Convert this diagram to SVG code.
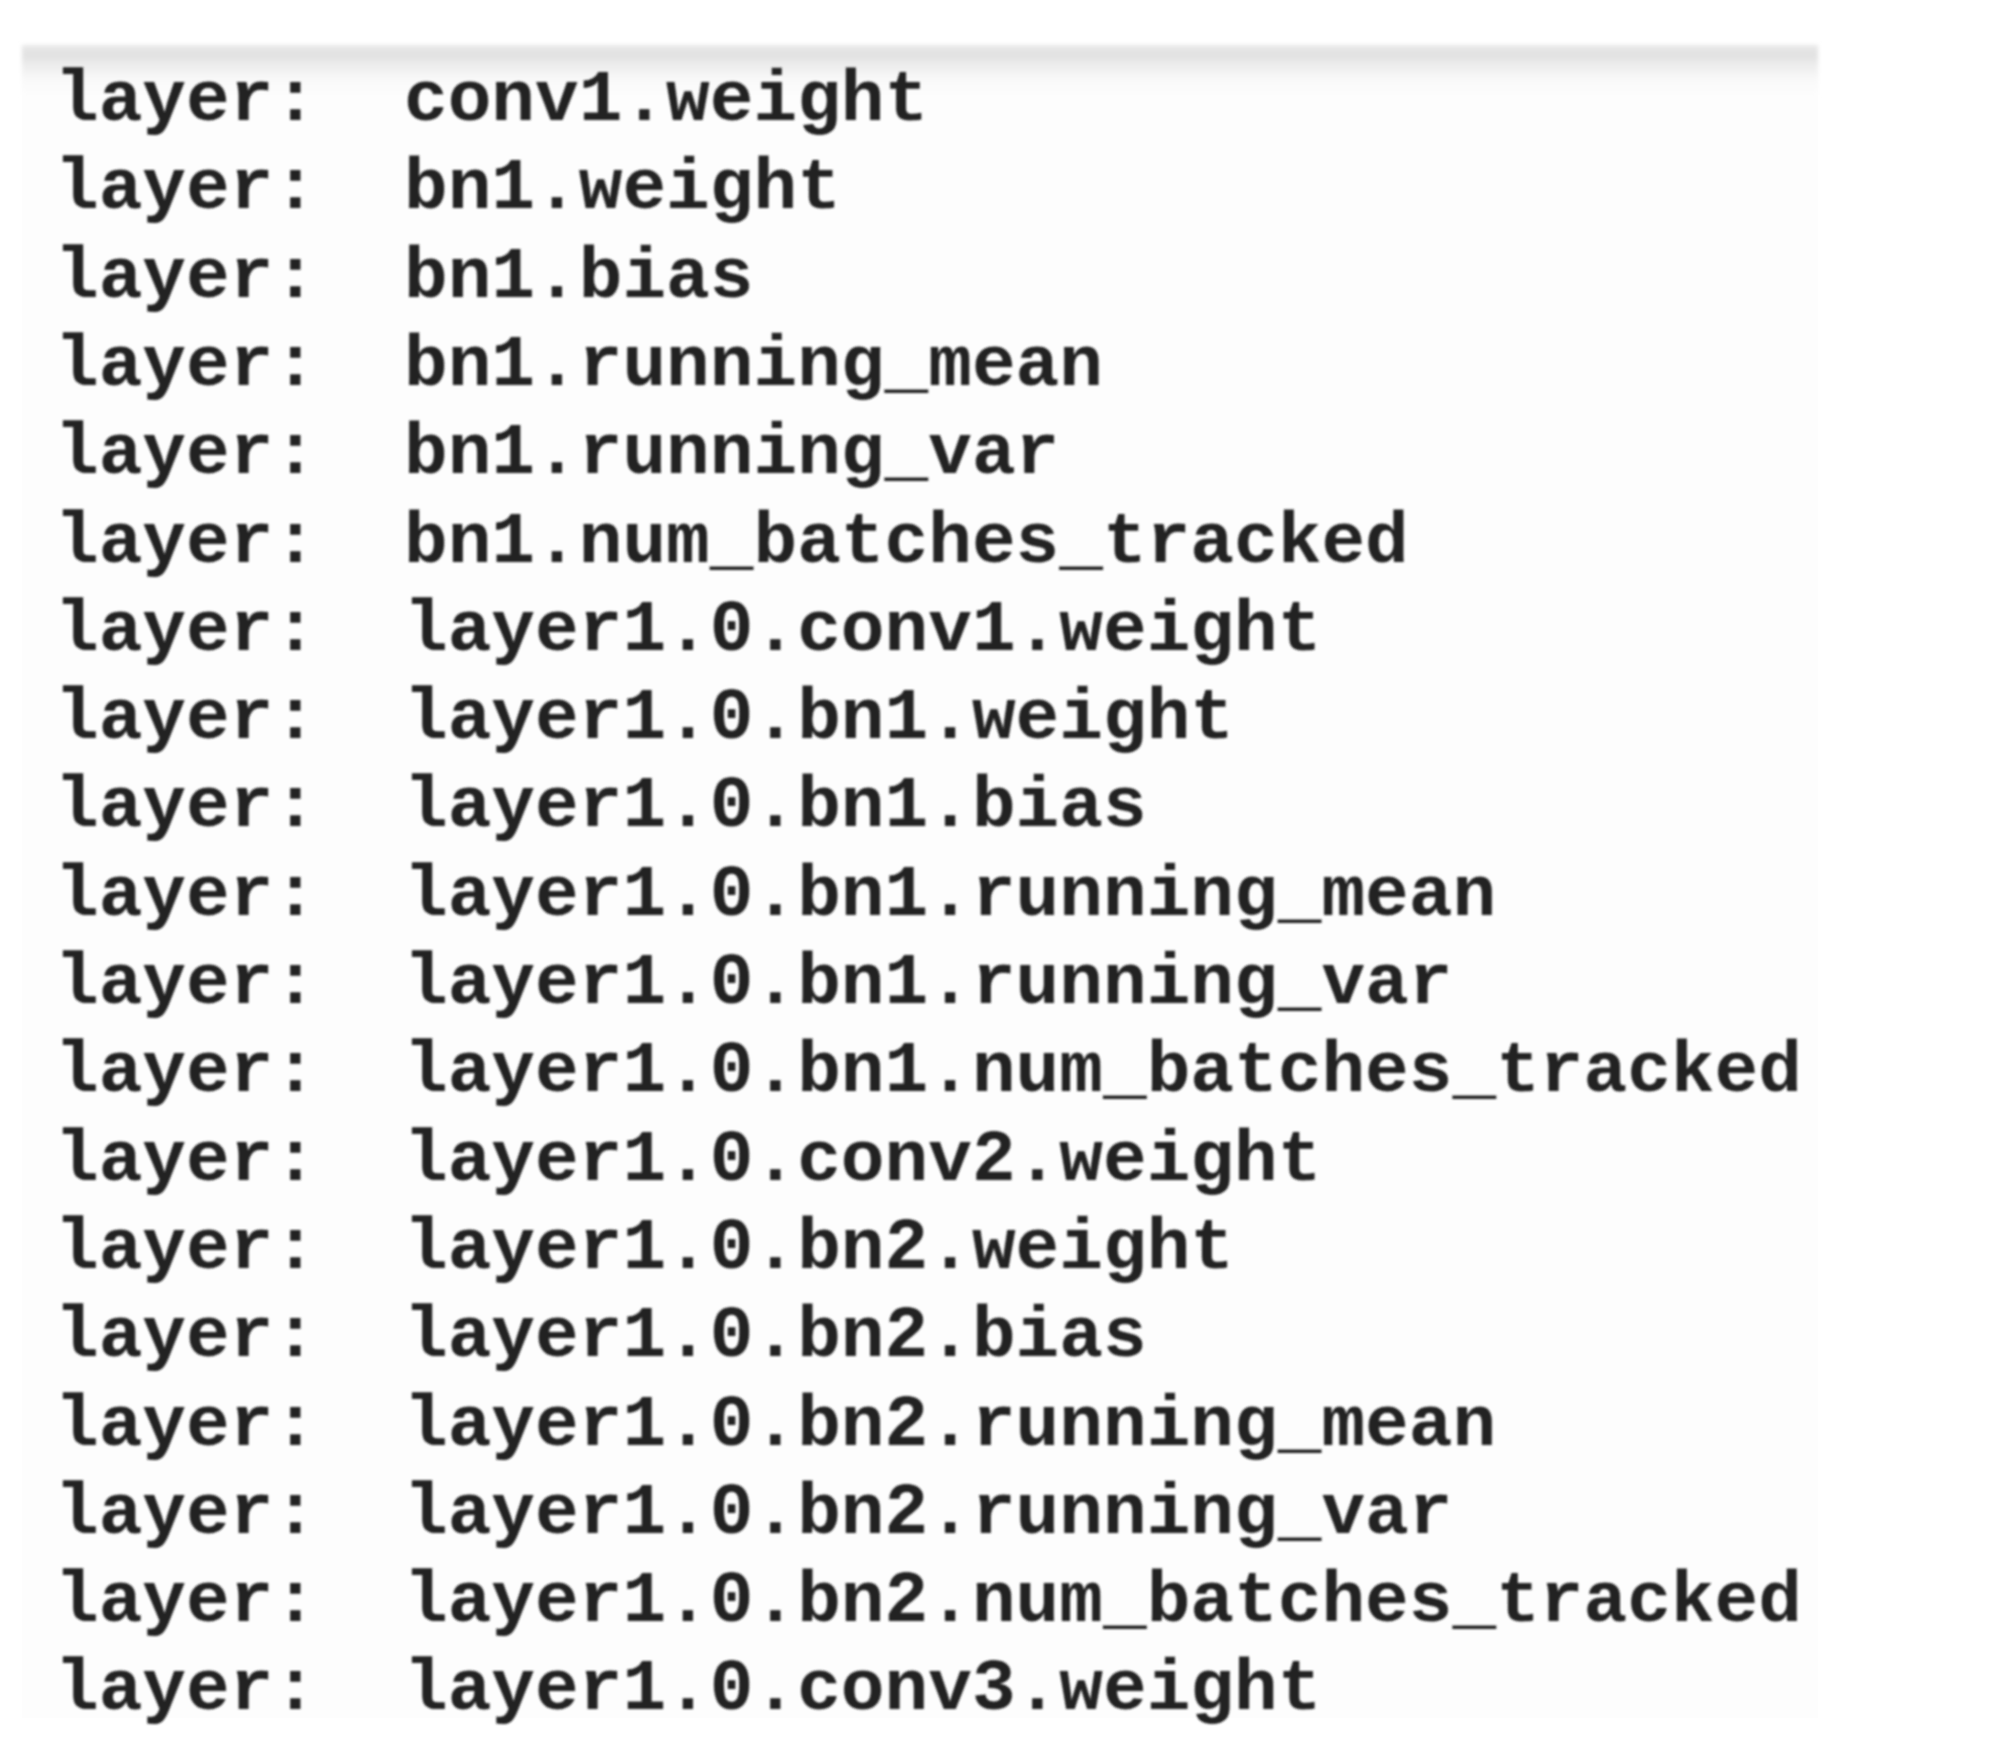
<svg xmlns="http://www.w3.org/2000/svg" width="2000" height="1743" viewBox="0 0 2000 1743">
  <defs>
    <linearGradient id="band" x1="0" y1="0" x2="0" y2="1">
      <stop offset="0" stop-color="#e9e9e9"/>
      <stop offset="0.2" stop-color="#e1e1e1"/>
      <stop offset="0.45" stop-color="#efefef"/>
      <stop offset="0.7" stop-color="#f9f9f9"/>
      <stop offset="1" stop-color="#fdfdfd"/>
    </linearGradient>
    <filter id="soft" x="-0.05" y="-0.5" width="1.1" height="2">
      <feGaussianBlur stdDeviation="2"/>
    </filter>
    <filter id="txtblur" x="-0.05" y="-0.2" width="1.1" height="1.4">
      <feGaussianBlur stdDeviation="1.1"/>
    </filter>
  </defs>
  <style>
    .t { font-family: "Liberation Mono", "Courier New", monospace; font-weight: bold; font-size: 72.8px; fill: #222222; }
  </style>
  <rect x="0" y="0" width="2000" height="1743" fill="#ffffff"/>
  <rect id="panel" x="22" y="45" width="1796" height="1673" fill="#fdfdfd"/>
  <rect id="band-top" x="22" y="45" width="1796" height="50" fill="url(#band)" filter="url(#soft)"/>
  <g id="lines" filter="url(#txtblur)">
    <g id="line1"><text class="t" y="120"><tspan x="55">layer:</tspan><tspan x="404">conv1.weight</tspan></text></g>
    <g id="line2"><text class="t" y="208.3"><tspan x="55">layer:</tspan><tspan x="404">bn1.weight</tspan></text></g>
    <g id="line3"><text class="t" y="296.6"><tspan x="55">layer:</tspan><tspan x="404">bn1.bias</tspan></text></g>
    <g id="line4"><text class="t" y="384.9"><tspan x="55">layer:</tspan><tspan x="404">bn1.running_mean</tspan></text></g>
    <g id="line5"><text class="t" y="473.2"><tspan x="55">layer:</tspan><tspan x="404">bn1.running_var</tspan></text></g>
    <g id="line6"><text class="t" y="561.5"><tspan x="55">layer:</tspan><tspan x="404">bn1.num_batches_tracked</tspan></text></g>
    <g id="line7"><text class="t" y="649.8"><tspan x="55">layer:</tspan><tspan x="404">layer1.0.conv1.weight</tspan></text></g>
    <g id="line8"><text class="t" y="738.1"><tspan x="55">layer:</tspan><tspan x="404">layer1.0.bn1.weight</tspan></text></g>
    <g id="line9"><text class="t" y="826.4"><tspan x="55">layer:</tspan><tspan x="404">layer1.0.bn1.bias</tspan></text></g>
    <g id="line10"><text class="t" y="914.7"><tspan x="55">layer:</tspan><tspan x="404">layer1.0.bn1.running_mean</tspan></text></g>
    <g id="line11"><text class="t" y="1003"><tspan x="55">layer:</tspan><tspan x="404">layer1.0.bn1.running_var</tspan></text></g>
    <g id="line12"><text class="t" y="1091.3"><tspan x="55">layer:</tspan><tspan x="404">layer1.0.bn1.num_batches_tracked</tspan></text></g>
    <g id="line13"><text class="t" y="1179.6"><tspan x="55">layer:</tspan><tspan x="404">layer1.0.conv2.weight</tspan></text></g>
    <g id="line14"><text class="t" y="1267.9"><tspan x="55">layer:</tspan><tspan x="404">layer1.0.bn2.weight</tspan></text></g>
    <g id="line15"><text class="t" y="1356.2"><tspan x="55">layer:</tspan><tspan x="404">layer1.0.bn2.bias</tspan></text></g>
    <g id="line16"><text class="t" y="1444.5"><tspan x="55">layer:</tspan><tspan x="404">layer1.0.bn2.running_mean</tspan></text></g>
    <g id="line17"><text class="t" y="1532.8"><tspan x="55">layer:</tspan><tspan x="404">layer1.0.bn2.running_var</tspan></text></g>
    <g id="line18"><text class="t" y="1621.1"><tspan x="55">layer:</tspan><tspan x="404">layer1.0.bn2.num_batches_tracked</tspan></text></g>
    <g id="line19"><text class="t" y="1709.4"><tspan x="55">layer:</tspan><tspan x="404">layer1.0.conv3.weight</tspan></text></g>
  </g>
  <g id="connectors"/>
</svg>
